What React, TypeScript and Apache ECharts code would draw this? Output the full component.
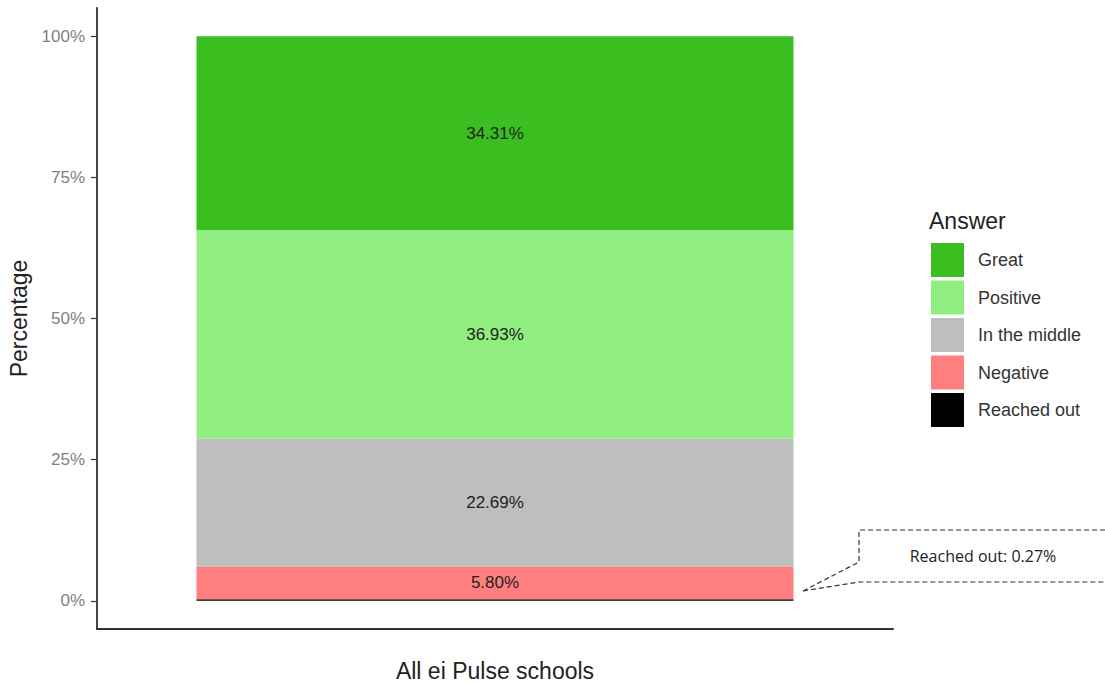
import React, { useEffect, useRef } from "react";
import * as echarts from "echarts";

const categories = ["All ei Pulse schools"];
const answers = ["Reached out", "Negative", "In the middle", "Positive", "Great"];
const values = [0.27, 5.8, 22.69, 36.93, 34.31];
const colors = ["#000000", "#ff7f7f", "#bebebe", "#90ee80", "#3bbf20"];
const legendOrder = ["Great", "Positive", "In the middle", "Negative", "Reached out"];
const yTicks = [0, 25, 50, 75, 100];
const calloutLabel = "Reached out";

const FONT = "Liberation Sans, Arial, sans-serif";

export default function App() {
  const ref = useRef<HTMLDivElement>(null);
  useEffect(() => {
    if (!ref.current) return;
    const chart = echarts.init(ref.current, undefined, { renderer: "svg" });
    const calloutValue = values[answers.indexOf(calloutLabel)];
    const series = answers.map((name, i) => ({
      name,
      type: "bar",
      stack: "total",
      barWidth: "75%",
      data: [values[i]],
      itemStyle: { color: colors[i] },
      label: {
        show: name !== calloutLabel,
        position: "inside",
        formatter: (p: any) => p.value.toFixed(2) + "%",
        color: "#222",
        fontSize: 17,
        fontFamily: FONT,
      },
    }));
    chart.setOption({
      animation: false,
      textStyle: { fontFamily: FONT },
      grid: { left: 97, top: 8, right: 212, bottom: 54, containLabel: false, outerBoundsMode: "none" },
      xAxis: {
        type: "category",
        data: categories,
        name: categories[0],
        nameLocation: "middle",
        nameGap: 30,
        nameTextStyle: { fontSize: 23, color: "#222" },
        axisLine: { onZero: false, lineStyle: { color: "#333", width: 1.8 } },
        axisTick: { alignWithLabel: true, length: 6, lineStyle: { color: "#333", width: 1.2 } },
        axisLabel: { show: false },
      },
      yAxis: {
        type: "value",
        min: -5,
        max: 105,
        name: "Percentage",
        nameLocation: "middle",
        nameGap: 63,
        nameTextStyle: { fontSize: 23, color: "#222" },
        splitLine: { show: false },
        axisLine: { show: true, onZero: false, lineStyle: { color: "#333", width: 1.8 } },
        axisTick: { show: true, length: 6, customValues: yTicks, lineStyle: { color: "#333", width: 1.2 } },
        axisLabel: {
          customValues: yTicks,
          formatter: (v: number) => v + "%",
          color: "#7f7f7f",
          fontSize: 17,
          margin: 12,
        },
      },
      legend: {
        orient: "vertical",
        left: 931,
        top: 243,
        padding: 0,
        data: legendOrder,
        icon: "rect",
        itemWidth: 33,
        itemHeight: 34,
        itemGap: 3.5,
        textStyle: { fontSize: 18, color: "#333", padding: [0, 0, 0, 9] },
        selectedMode: false,
      },
      graphic: [
        {
          type: "text",
          x: 929,
          y: 221,
          style: { text: "Answer", fontSize: 23, fill: "#222", fontFamily: FONT, verticalAlign: "middle" },
        },
        {
          type: "polyline",
          shape: {
            points: [
              [1105, 530],
              [859, 530],
              [859, 562],
              [803, 591],
            ],
          },
          style: { stroke: "#333", lineWidth: 1.2, lineDash: [5, 3], fill: null },
        },
        {
          type: "polyline",
          shape: {
            points: [
              [803, 591],
              [859, 582],
              [1105, 582],
            ],
          },
          style: { stroke: "#333", lineWidth: 1.2, lineDash: [5, 3], fill: null },
        },
        {
          type: "text",
          x: 983,
          y: 556,
          style: {
            text: calloutLabel + ": " + calloutValue.toFixed(2) + "%",
            fontSize: 16,
            fill: "#222",
            align: "center",
            verticalAlign: "middle",
            fontFamily: "Open Sans, Noto Sans, sans-serif",
          },
        },
      ],
      series,
    });
    return () => chart.dispose();
  }, []);
  return <div ref={ref} style={{ width: 1105, height: 683, position: "absolute", left: 0, top: 0 }} />;
}
